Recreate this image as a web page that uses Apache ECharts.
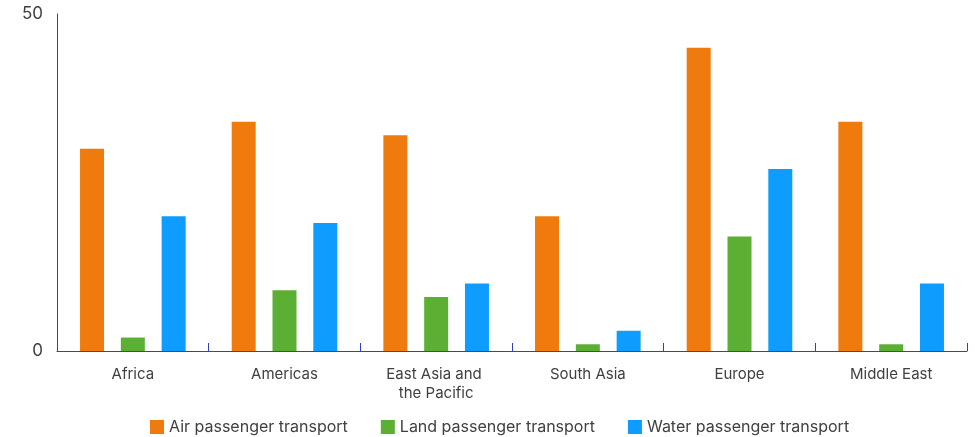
<!DOCTYPE html>
<html>
<head>
<meta charset="utf-8">
<script src="https://cdn.jsdelivr.net/npm/echarts@6/dist/echarts.min.js"></script>
<style>
  html, body { margin: 0; padding: 0; background: #fff; }
  #chart { width: 975px; height: 437px; }
</style>
</head>
<body>
<div id="chart"></div>
<script>
const regions = ['Africa', 'Americas', 'East Asia and the Pacific', 'South Asia', 'Europe', 'Middle East']
const airValues = [30, 34, 32, 20, 45, 34]
const landValues = [2, 9, 8, 1, 17, 1]
const waterValues = [20, 19, 10, 3, 27, 10]

const axisBlue = '#2d3fd2'
const font = 'Inter, "Noto Sans", sans-serif'

const mychart = echarts.init(document.getElementById('chart'))
mychart.setOption({
  animation: false,
  textStyle: { fontFamily: font },
  grid: { left: 57, right: 8, top: 14, bottom: 86 },
  legend: {
    left: 150,
    top: 419,
    padding: 0,
    itemWidth: 14,
    itemHeight: 14,
    itemGap: 33,
    icon: 'rect',
    textStyle: { color: '#404040', fontSize: 16, fontFamily: font }
  },
  xAxis: {
    type: 'category',
    data: regions,
    axisLine: { lineStyle: { color: axisBlue, width: 1 } },
    axisTick: { show: true, inside: true, length: 8, lineStyle: { color: axisBlue } },
    axisLabel: {
      color: '#404040',
      fontSize: 15,
      margin: 14,
      lineHeight: 19,
      width: 120,
      overflow: 'break',
      interval: 0
    }
  },
  yAxis: {
    type: 'value',
    min: 0,
    max: 50,
    interval: 50,
    axisLine: { show: true, lineStyle: { color: axisBlue } },
    axisTick: { show: false },
    splitLine: { show: false },
    axisLabel: { color: '#404040', fontSize: 17, margin: 14 }
  },
  series: [
    {
      name: 'Air passenger transport',
      type: 'bar',
      data: airValues,
      barWidth: 24,
      barGap: '70%',
      itemStyle: { color: '#ef7b0e' }
    },
    {
      name: 'Land passenger transport',
      type: 'bar',
      data: landValues,
      barWidth: 24,
      itemStyle: { color: '#5bb033' }
    },
    {
      name: 'Water passenger transport',
      type: 'bar',
      data: waterValues,
      barWidth: 24,
      itemStyle: { color: '#0e9dfe' }
    }
  ]
})
</script>
</body>
</html>
